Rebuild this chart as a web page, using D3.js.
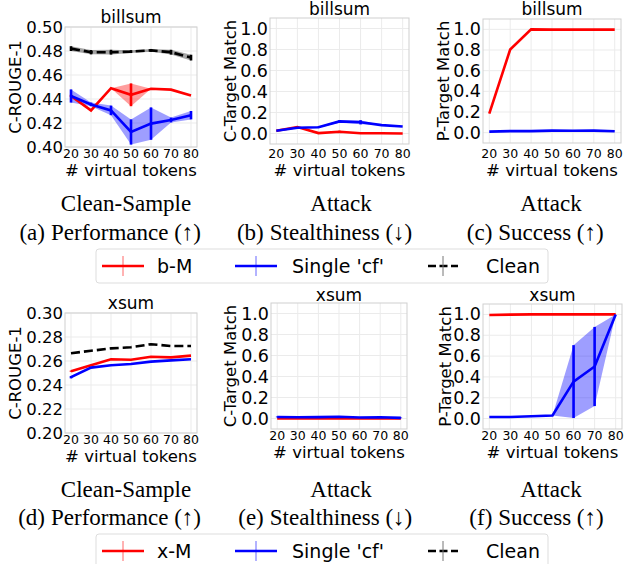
<!DOCTYPE html>
<html><head><meta charset="utf-8">
<script src="https://cdn.jsdelivr.net/npm/d3@7/dist/d3.min.js"></script>
<style>body{margin:0;background:#fff}svg{display:block}</style>
</head><body>
<svg id="c" width="627" height="564"></svg>
<script>
const xTokens = [20,30,40,50,60,70,80];
const xTickLabels = ["20","30","40","50","60","70","80"];
const rougeBillsumTicks = [0.40,0.42,0.44,0.46,0.48,0.50];
const rougeXsumTicks = [0.20,0.22,0.24,0.26,0.28,0.30];
const matchTicks = [0.0,0.2,0.4,0.6,0.8,1.0];

// billsum C-ROUGE-1
const billsumRougeBM = [0.4425,0.4305,0.449,0.4435,0.4485,0.4478,0.443];
const billsumRougeBMStd = [0.001,0,0,0.0095,0,0,0];
const billsumRougeCf = [0.4425,0.4355,0.4305,0.4125,0.4195,0.4225,0.4265];
const billsumRougeCfStd = [0.0055,0.0015,0.004,0.0105,0.0135,0.002,0.0035];
const billsumRougeClean = [0.482,0.479,0.479,0.4795,0.4805,0.479,0.4745];
const billsumRougeCleanStd = [0.002,0.0018,0.002,0.0012,0.0012,0.002,0.0024];
// billsum C-Target Match
const billsumCTargetBM = [0.026,0.062,0.004,0.016,0.002,0.002,0.0];
const billsumCTargetBMStd = [0,0,0,0.01,0,0,0];
const billsumCTargetCf = [0.026,0.055,0.06,0.115,0.107,0.08,0.066];
const billsumCTargetCfStd = [0,0,0.005,0.012,0.02,0,0];
// billsum P-Target Match
const billsumPTargetBM = [0.185,0.805,1.0,0.997,0.997,0.997,0.997];
const billsumPTargetCf = [0.01,0.015,0.015,0.02,0.018,0.02,0.013];
// xsum C-ROUGE-1
const xsumRougeXM = [0.2515,0.2565,0.2615,0.261,0.2635,0.263,0.2645];
const xsumRougeXMStd = [0.0005,0,0,0,0,0,0];
const xsumRougeCf = [0.2465,0.2545,0.2565,0.2575,0.2595,0.2605,0.2615];
const xsumRougeCfStd = [0.001,0,0,0,0,0,0];
const xsumRougeClean = [0.2665,0.2685,0.2705,0.2715,0.274,0.2725,0.2725];
// xsum C-Target Match
const xsumCTargetXM = [0.0,0.0,0.0,0.0,0.0,0.0,0.0];
const xsumCTargetCf = [0.015,0.012,0.013,0.017,0.01,0.012,0.006];
const xsumCTargetCfStd = [0.004,0.003,0.003,0.004,0.003,0.003,0.003];
// xsum P-Target Match
const xsumPTargetXM = [0.994,0.998,1.0,1.0,1.0,1.0,1.0];
const xsumPTargetCf = [0.015,0.015,0.022,0.03,0.355,0.5,1.0];
const xsumPTargetCfStd = [0,0,0,0,0.35,0.38,0];

const svg = d3.select("#c");
const SANS = "DejaVu Sans";
const SERIF = "Liberation Serif";
const RED = "#ff0000", BLUE = "#0000ff", BLACK = "#000000";
const bandColor = {[RED]:"rgba(255,0,0,0.38)",[BLUE]:"rgba(0,0,255,0.38)",[BLACK]:"rgba(0,0,0,0.35)"};
let clipId = 0;

function panel(p){
  const g = svg.append("g");
  const x = d3.scaleLinear().domain([17,83]).range([p.left,p.right]);
  const y = d3.scaleLinear().domain(p.ydom).range([p.bottom,p.top]);
  g.selectAll(".gx").data(xTokens).enter().append("line")
    .attr("x1",d=>x(d)).attr("x2",d=>x(d)).attr("y1",p.top).attr("y2",p.bottom)
    .attr("stroke","#ebebeb").attr("stroke-width",1);
  g.selectAll(".gy").data(p.yticks).enter().append("line")
    .attr("y1",d=>y(d)).attr("y2",d=>y(d)).attr("x1",p.left).attr("x2",p.right)
    .attr("stroke","#ebebeb").attr("stroke-width",1);
  g.append("rect").attr("x",p.left).attr("y",p.top).attr("width",p.right-p.left).attr("height",p.bottom-p.top)
    .attr("fill","none").attr("stroke","#cfcfcf").attr("stroke-width",1);
  const cid = "clip"+(clipId++);
  svg.append("clipPath").attr("id",cid).append("rect")
    .attr("x",p.left).attr("y",p.top).attr("width",p.right-p.left).attr("height",p.bottom-p.top);
  const plot = g.append("g").attr("clip-path",`url(#${cid})`);
  p.series.forEach(s=>{
    if(!s.std) return;
    const area = d3.area().x((d,i)=>x(xTokens[i])).y0((d,i)=>y(d - s.std[i])).y1((d,i)=>y(d + s.std[i]));
    plot.append("path").attr("d",area(s.values)).attr("fill",bandColor[s.color]).attr("stroke","none");
  });
  p.series.forEach(s=>{
    const line = d3.line().x((d,i)=>x(xTokens[i])).y(d=>y(d));
    plot.append("path").attr("d",line(s.values)).attr("fill","none").attr("stroke",s.color)
      .attr("stroke-width",2.6).attr("stroke-dasharray",s.dash?"9,4":null);
    if(s.std){
      s.values.forEach((v,i)=>{
        if(s.std[i] <= 0) return;
        plot.append("line").attr("x1",x(xTokens[i])).attr("x2",x(xTokens[i]))
          .attr("y1",y(v - s.std[i])).attr("y2",y(v + s.std[i]))
          .attr("stroke",s.color).attr("stroke-width",2.6);
      });
    }
  });
  g.selectAll(".yt").data(p.yticks).enter().append("text")
    .attr("x",p.left-2).attr("y",d=>y(d)).attr("text-anchor","end").attr("dominant-baseline","central")
    .attr("font-family",SANS).attr("font-size",p.ytfs).attr("fill","#000").text(d=>d3.format(p.yfmt)(d));
  g.selectAll(".xt").data(xTokens).enter().append("text")
    .attr("x",d=>x(d)).attr("y",p.xtY).attr("text-anchor","middle").attr("dominant-baseline","central")
    .attr("font-family",SANS).attr("font-size",12.5).attr("fill","#000").text((d,i)=>xTickLabels[i]);
  g.append("text").attr("x",(p.left+p.right)/2).attr("y",p.xlY).attr("text-anchor","middle")
    .attr("dominant-baseline","central").attr("font-family",SANS).attr("font-size",16.5).text("# virtual tokens");
  g.append("text").attr("transform",`translate(${p.ylX},${(p.top+p.bottom)/2}) rotate(-90)`)
    .attr("text-anchor","middle").attr("dominant-baseline","central")
    .attr("font-family",SANS).attr("font-size",16.5).text(p.ylabel);
  g.append("text").attr("x",(p.left+p.right)/2).attr("y",p.titleY).attr("text-anchor","middle")
    .attr("dominant-baseline","central").attr("font-family",SANS).attr("font-size",17).text(p.title);
}

function caption(cx, y1, y2, line1, label, rest){
  svg.append("text").attr("x",cx).attr("y",y1).attr("text-anchor","middle")
    .attr("font-family",SERIF).attr("font-size",23).text(line1);
  const t = svg.append("text").attr("x",cx).attr("y",y2).attr("text-anchor","middle")
    .attr("font-family",SERIF).attr("font-size",23).text(rest);
  const w = t.node().getComputedTextLength();
  svg.append("text").attr("x",cx - w/2 - 6).attr("y",y2).attr("text-anchor","end")
    .attr("font-family",SERIF).attr("font-size",23).text(label);
}

function legend(top, names){
  const g = svg.append("g");
  g.append("rect").attr("x",96).attr("y",top).attr("width",452).attr("height",34).attr("rx",3)
    .attr("fill","#fff").attr("stroke","#dddddd").attr("stroke-width",1);
  const cy = top + 17;
  const items = [
    {x0:102, tx:157, color:RED, dash:false, name:names[0]},
    {x0:235, tx:292, color:BLUE, dash:false, name:names[1]},
    {x0:428, tx:486, color:BLACK, dash:true, name:names[2]}
  ];
  items.forEach(it=>{
    const len = it.dash ? 30 : 42;
    g.append("line").attr("x1",it.x0).attr("x2",it.x0+len).attr("y1",cy).attr("y2",cy)
      .attr("stroke",it.color).attr("stroke-width",2.6).attr("stroke-dasharray",it.dash?"8,3.5":null);
    g.append("line").attr("x1",it.x0+len/2).attr("x2",it.x0+len/2).attr("y1",cy-10).attr("y2",cy+10)
      .attr("stroke",it.dash?"#777":it.color).attr("stroke-opacity",it.dash?1:0.6).attr("stroke-width",1);
    g.append("text").attr("x",it.tx).attr("y",cy).attr("dominant-baseline","central")
      .attr("font-family",SANS).attr("font-size",19).text(it.name);
  });
}

panel({left:65,right:197,top:27,bottom:147,ydom:[0.40,0.50],yticks:rougeBillsumTicks,yfmt:".2f",ytfs:16.5,
  title:"billsum",titleY:17,ylabel:"C-ROUGE-1",ylX:15,xtY:153,xlY:170,
  series:[{values:billsumRougeBM,std:billsumRougeBMStd,color:RED},
          {values:billsumRougeCf,std:billsumRougeCfStd,color:BLUE},
          {values:billsumRougeClean,std:billsumRougeCleanStd,color:BLACK,dash:true}]});
panel({left:270,right:409,top:18,bottom:144,ydom:[-0.1,1.1],yticks:matchTicks,yfmt:".1f",ytfs:17.5,
  title:"billsum",titleY:9,ylabel:"C-Target Match",ylX:230,xtY:153,xlY:170,
  series:[{values:billsumCTargetBM,std:billsumCTargetBMStd,color:RED},
          {values:billsumCTargetCf,std:billsumCTargetCfStd,color:BLUE}]});
panel({left:483,right:621,top:19,bottom:143,ydom:[-0.1,1.1],yticks:matchTicks,yfmt:".1f",ytfs:17.5,
  title:"billsum",titleY:9,ylabel:"P-Target Match",ylX:443,xtY:153,xlY:170,
  series:[{values:billsumPTargetBM,color:RED},
          {values:billsumPTargetCf,color:BLUE}]});

caption(126,211,240,"Clean-Sample","(a)","Performance (↑)");
caption(341,211,240,"Attack","(b)","Stealthiness (↓)");
caption(551,211,240,"Attack","(c)","Success (↑)");
legend(249,["b-M","Single 'cf'","Clean"]);

panel({left:65,right:197,top:313,bottom:433,ydom:[0.20,0.30],yticks:rougeXsumTicks,yfmt:".2f",ytfs:16.5,
  title:"xsum",titleY:303,ylabel:"C-ROUGE-1",ylX:15,xtY:439,xlY:456,
  series:[{values:xsumRougeXM,std:xsumRougeXMStd,color:RED},
          {values:xsumRougeCf,std:xsumRougeCfStd,color:BLUE},
          {values:xsumRougeClean,color:BLACK,dash:true}]});
panel({left:271,right:407,top:303,bottom:429,ydom:[-0.1,1.1],yticks:matchTicks,yfmt:".1f",ytfs:17.5,
  title:"xsum",titleY:295,ylabel:"C-Target Match",ylX:230,xtY:435,xlY:452,
  series:[{values:xsumCTargetXM,color:RED},
          {values:xsumCTargetCf,std:xsumCTargetCfStd,color:BLUE}]});
panel({left:483,right:622,top:304,bottom:429,ydom:[-0.1,1.1],yticks:matchTicks,yfmt:".1f",ytfs:17.5,
  title:"xsum",titleY:295,ylabel:"P-Target Match",ylX:445,xtY:435,xlY:452,
  series:[{values:xsumPTargetXM,color:RED},
          {values:xsumPTargetCf,std:xsumPTargetCfStd,color:BLUE}]});

caption(126,497,525,"Clean-Sample","(d)","Performance (↑)");
caption(341,497,525,"Attack","(e)","Stealthiness (↓)");
caption(551,497,525,"Attack","(f)","Success (↑)");
legend(534,["x-M","Single 'cf'","Clean"]);
</script>
</body></html>
